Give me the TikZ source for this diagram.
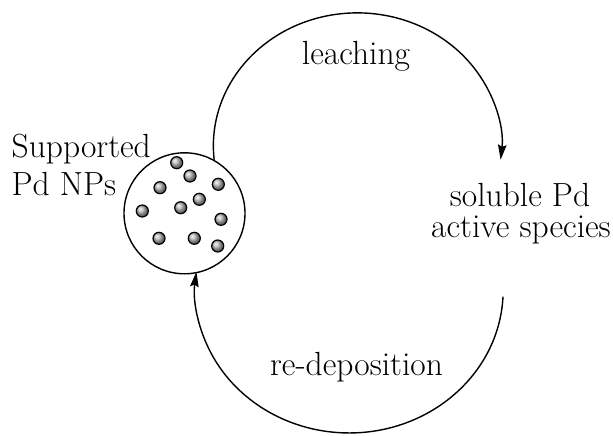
\documentclass[tikz,border=0pt]{standalone}
\usetikzlibrary{arrows.meta}
\begin{document}
\begin{tikzpicture}[x=1pt,y=1pt, line width=1.4pt,
  lbl/.style={font=\fontsize{33.5}{37}\selectfont, inner sep=0pt},
  particle/.style={circle, draw, shade, ball color=gray!55, minimum size=12, inner sep=0pt, line width=1.2pt},
  flow/.style={-{Stealth[length=15pt,width=8.5pt,inset=2pt]}}]
\useasboundingbox (0,0) rectangle (613,-436);
\node[circle, draw, minimum size=121, inner sep=0pt] (np) at (184.5,-213.3) {};
\foreach \x/\y [count=\i] in {176.7/162.7,190/176,160/187.7,218.3/184.3,199.3/199.3,180.7/207.7,142.3/211,221/219.3,159/238.3,194.3/238.3,217.7/246}
  \node[particle] (p\i) at (\x,-\y) {};
\node[lbl, anchor=base west] (sup1) at (11,-157.7) {Supported};
\node[lbl, anchor=base west] (sup2) at (11,-195) {Pd NPs};
\node[lbl, anchor=base] (sol1) at (520,-206.7) {soluble Pd};
\node[lbl, anchor=base] (sol2) at (521,-237.5) {active species};
\node[lbl, anchor=base] (leach) at (356,-65) {leaching};
\node[lbl, anchor=base] (redep) at (356.5,-375) {re-deposition};
\coordinate (depstart) at (503,-296.7);
\draw[flow] (np.61) arc[start angle=186, end angle=-6, x radius=144, y radius=133];
\draw[flow] (depstart) arc[start angle=-2.7, end angle=-187.3, x radius=154, y radius=143];
\end{tikzpicture}
\end{document}
